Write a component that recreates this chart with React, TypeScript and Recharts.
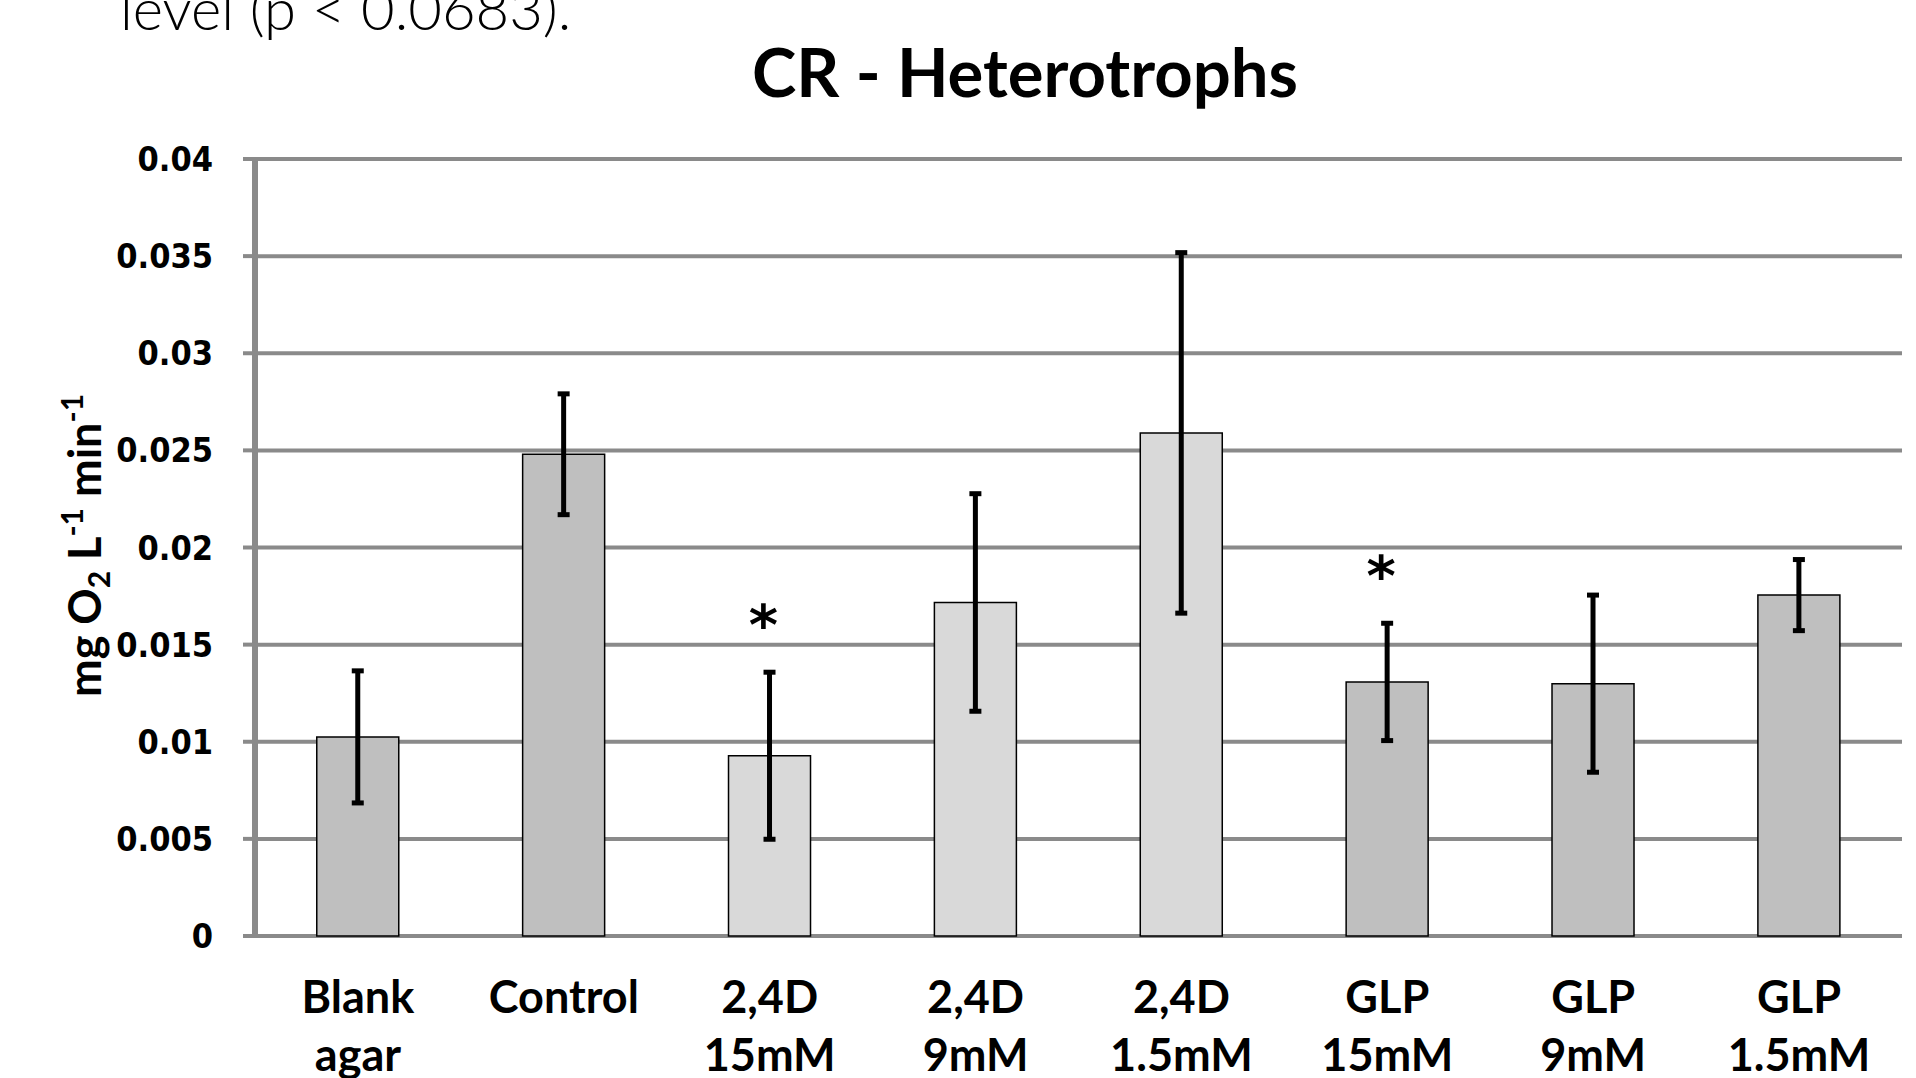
import {
  Bar,
  BarChart,
  CartesianGrid,
  Cell,
  ErrorBar,
  LabelList,
  XAxis,
  YAxis,
} from "recharts";

// category labels, two lines each
const labelTop = ["Blank", "Control", "2,4D", "2,4D", "2,4D", "GLP", "GLP", "GLP"];
const labelBottom = ["agar", "", "15mM", "9mM", "1.5mM", "15mM", "9mM", "1.5mM"];
const groups = ["ref", "ref", "d24", "d24", "d24", "glp", "glp", "glp"];

// mg O2 L-1 min-1
const means = [0.01025, 0.0248, 0.00928, 0.01717, 0.0259, 0.01308, 0.01299, 0.01755];
const errors = [0.0034, 0.00311, 0.0043, 0.0056, 0.00928, 0.00302, 0.00456, 0.00183];
const significant = [false, false, true, false, false, true, false, false];

const yTicks = [0, 0.005, 0.01, 0.015, 0.02, 0.025, 0.03, 0.035, 0.04];
const edgeTicks = [0, 1, 2, 3, 4, 5, 6, 7, 8];

const GRID = "#8a8a8a";
const DARK = "#bfbfbf";
const LIGHT = "#d9d9d9";
const LABEL_FONT = "Lato, 'Open Sans', sans-serif";

const data = means.map((mean, i) => ({
  name: `${labelTop[i]}|${labelBottom[i]}`,
  mean,
  err: errors[i],
}));

function CategoryTick({ x, y, payload }: { x?: number; y?: number; payload?: { value: string } }) {
  const [top, bottom] = String(payload?.value ?? "").split("|");
  return (
    <g>
      <text
        x={x}
        y={(y ?? 0) + 77}
        textAnchor="middle"
        fontFamily={LABEL_FONT}
        fontWeight={700}
        fontSize={45}
        fill="#000"
      >
        {top}
      </text>
      {bottom ? (
        <text
          x={x}
          y={(y ?? 0) + 135}
          textAnchor="middle"
          fontFamily={LABEL_FONT}
          fontWeight={700}
          fontSize={45}
          fill="#000"
        >
          {bottom}
        </text>
      ) : null}
    </g>
  );
}

function Asterisk(props: any) {
  const { x, y, width, height, value, index } = props;
  if (!significant[index] || !value) {
    return null;
  }
  const pxPerUnit = height / value;
  const errTop = y - errors[index] * pxPerUnit;
  return (
    <text
      x={x + width / 2 - 6}
      y={errTop - 28}
      textAnchor="middle"
      fontFamily="'DejaVu Sans', sans-serif"
      fontWeight={700}
      fontSize={56}
      fill="#000"
    >
      *
    </text>
  );
}

function AxisTitle(props: any) {
  const vb = props.viewBox ?? { x: 0, y: 0, width: 0, height: 0 };
  const cx = vb.x - 64;
  const cy = vb.y + vb.height / 2 - 2;
  return (
    <text
      x={cx}
      y={cy}
      textAnchor="middle"
      transform={`rotate(-90, ${cx}, ${cy})`}
      fontFamily={LABEL_FONT}
      fontWeight={700}
      fontSize={45}
      fill="#000"
    >
      mg O
      <tspan fontSize={30} dy={9}>2</tspan>
      <tspan dy={-9}> L</tspan>
      <tspan fontSize={30} dy={-18}>-1</tspan>
      <tspan dy={18}> min</tspan>
      <tspan fontSize={30} dy={-18}>-1</tspan>
    </text>
  );
}

export default function App() {
  return (
    <div
      style={{
        position: "fixed",
        left: 0,
        top: 0,
        width: 1916,
        height: 1078,
        background: "#fff",
        overflow: "hidden",
      }}
    >
      <svg
        width={1916}
        height={1078}
        style={{ position: "absolute", left: 0, top: 0, pointerEvents: "none" }}
      >
        <text
          x={120}
          y={30}
          fontFamily={LABEL_FONT}
          fontWeight={300}
          fontSize={58}
          fill="#000"
        >
          level (p &lt; 0.0683).
        </text>
        <text
          x={1025}
          y={97}
          textAnchor="middle"
          fontFamily={LABEL_FONT}
          fontWeight={700}
          fontSize={67}
          fill="#000"
        >
          CR - Heterotrophs
        </text>
      </svg>
      <div style={{ position: "absolute", left: 0, top: 0 }}>
        <BarChart
          width={1916}
          height={1078}
          data={data}
          margin={{ top: 159, right: 14, bottom: 0, left: 165 }}
          barCategoryGap="30%"
        >
          <CartesianGrid stroke={GRID} strokeWidth={4} vertical={false} />
          <XAxis
            dataKey="name"
            height={142}
            interval={0}
            tickSize={0}
            tickMargin={0}
            axisLine={false}
            tickLine={false}
            tick={<CategoryTick />}
          />
          <XAxis
            xAxisId="edges"
            type="number"
            domain={[0, 8]}
            ticks={edgeTicks}
            interval={0}
            height={0}
            tickSize={12}
            allowDataOverflow
            axisLine={{ stroke: GRID, strokeWidth: 6 }}
            tickLine={{ stroke: GRID, strokeWidth: 3 }}
            tick={() => <g />}
          />
          <YAxis
            width={90}
            domain={[0, 0.04]}
            ticks={yTicks}
            interval={0}
            tickSize={12}
            tickMargin={30}
            axisLine={{ stroke: GRID, strokeWidth: 6 }}
            tickLine={{ stroke: GRID, strokeWidth: 4 }}
            tick={{
              fill: "#000",
              fontFamily: "'DejaVu Sans Condensed', 'DejaVu Sans', sans-serif",
              fontWeight: 700,
              fontSize: 34,
            }}
            label={<AxisTitle />}
          />
          <YAxis
            yAxisId="right"
            orientation="right"
            width={0}
            domain={[0, 0.04]}
            tick={false}
            tickLine={false}
            axisLine={{ stroke: GRID, strokeWidth: 4 }}
          />
          <Bar
            dataKey="mean"
            stroke="#000"
            strokeWidth={1.5}
            isAnimationActive={false}
          >
            {data.map((d, i) => (
              <Cell key={d.name} fill={groups[i] === "d24" ? LIGHT : DARK} />
            ))}
            <ErrorBar
              dataKey="err"
              width={6}
              stroke="#000"
              strokeWidth={5}
              isAnimationActive={false}
            />
            <LabelList dataKey="mean" content={<Asterisk />} />
          </Bar>
        </BarChart>
      </div>
    </div>
  );
}
